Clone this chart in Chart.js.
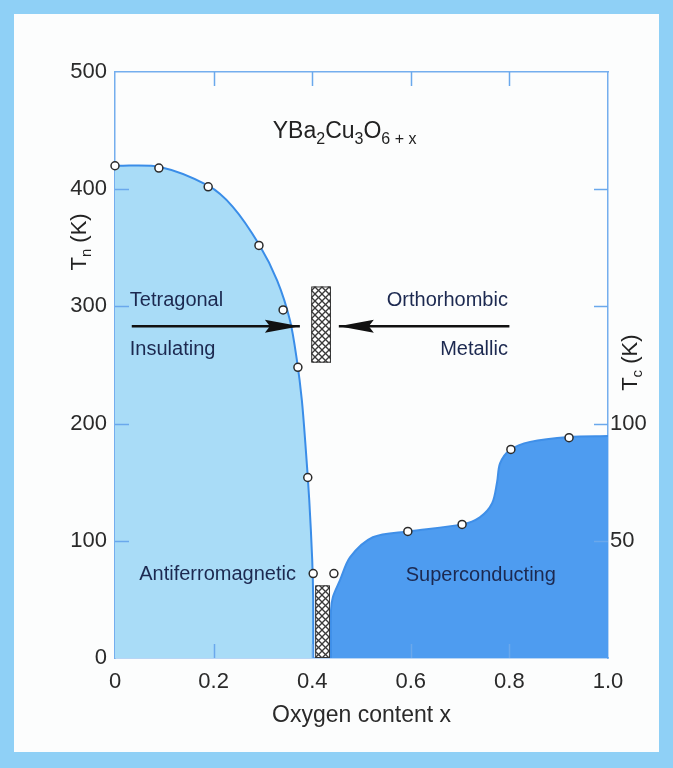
<!DOCTYPE html>
<html>
<head>
<meta charset="utf-8">
<script src="https://cdn.jsdelivr.net/npm/chart.js@4.4.1/dist/chart.umd.min.js"></script>
<style>
  html, body { margin: 0; padding: 0; background: #8fd0f6; }
  #panel { position: absolute; left: 14px; top: 14px; width: 645px; height: 738px; background: #fcfdfd; }
  #wrap { position: absolute; left: 0; top: 0; width: 673px; height: 768px; }
</style>
</head>
<body>
<div id="panel"></div>
<div id="wrap"><canvas id="chart"></canvas></div>
<script>
// x = oxygen content, Tn on the left axis (K), Tc on the right axis (K)
const afBoundaryX = [0, 0.091, 0.189, 0.239, 0.292, 0.329, 0.355, 0.369, 0.379, 0.387, 0.394, 0.400, 0.402, 0.402];
const afBoundaryTn = [420, 419, 403, 385, 353, 322, 288, 254, 220, 178, 135, 84, 50, 0];

const neelX = [0, 0.089, 0.189, 0.292, 0.341, 0.371, 0.391, 0.402];
const neelTn = [420, 418, 402, 352, 297, 248, 154, 72];

const scBoundaryX = [0.438, 0.438, 0.442, 0.456, 0.477, 0.523, 0.594, 0.704, 0.740, 0.765, 0.775, 0.781, 0.801, 0.842, 0.921, 1.0];
const scBoundaryTc = [0, 20, 26, 33, 43, 51.5, 54, 57, 60, 66, 75, 83, 88.7, 92.2, 94.3, 94.7];

const tcX = [0.444, 0.594, 0.704, 0.803, 0.921];
const tcK = [36, 54, 57, 89, 94];

// hatched two-phase regions: [x from, x to, Tn from, Tn to]
const hatchBoxes = [
  [0.398, 0.438, 252, 317],
  [0.406, 0.436, 0, 62]
];

// arrows: [x tail, x tip, Tn]
const arrows = [
  [0.034, 0.375, 283],
  [0.800, 0.454, 283]
];

const xTicks = [0, 0.2, 0.4, 0.6, 0.8, 1.0];
const tnTicks = [0, 100, 200, 300, 400, 500];
const tcTicks = [50, 100];

const FONT = '"Liberation Sans", Arial, Helvetica, sans-serif';
const TEXT = '#1c2950';

const zip = (xs, ys) => xs.map((v, i) => ({ x: v, y: ys[i] }));

// crosshatch pattern for the mixed regions
function makeHatch() {
  const c = document.createElement('canvas');
  c.width = 7; c.height = 7;
  const g = c.getContext('2d');
  g.fillStyle = '#ffffff';
  g.fillRect(0, 0, 7, 7);
  g.strokeStyle = '#3a3a3a';
  g.lineWidth = 1.3;
  for (const k of [-7, 0, 7]) {
    g.beginPath(); g.moveTo(k, 0); g.lineTo(k + 7, 7); g.stroke();
    g.beginPath(); g.moveTo(k, 7); g.lineTo(k + 7, 0); g.stroke();
  }
  return c;
}

function drawSubText(ctx, parts, x, y, big, small, drop) {
  let cx = x;
  parts.forEach(([t, sub]) => {
    ctx.font = (sub ? small : big) + 'px ' + FONT;
    ctx.fillText(t, cx, sub ? y + drop : y);
    cx += ctx.measureText(t).width;
  });
  return cx - x;
}

function subWidth(ctx, parts, big, small) {
  let w = 0;
  parts.forEach(([t, sub]) => {
    ctx.font = (sub ? small : big) + 'px ' + FONT;
    w += ctx.measureText(t).width;
  });
  return w;
}

const extras = {
  id: 'extras',
  afterDatasetsDraw(chart) {
    const { ctx, chartArea: a, scales } = chart;
    const sx = scales.x, sy = scales.y;
    ctx.save();

    // hatched boxes
    const pat = ctx.createPattern(makeHatch(), 'repeat');
    hatchBoxes.forEach(([x0, x1, t0, t1]) => {
      const l = sx.getPixelForValue(x0), r = sx.getPixelForValue(x1);
      const top = sy.getPixelForValue(t1), bot = sy.getPixelForValue(t0);
      ctx.fillStyle = pat;
      ctx.fillRect(l, top, r - l, bot - top);
      ctx.strokeStyle = '#333';
      ctx.lineWidth = 1;
      ctx.strokeRect(l + 0.5, top + 0.5, r - l - 1, bot - top - 1);
    });

    // arrowheads on arrow datasets
    chart.data.datasets.forEach((ds, i) => {
      if (!ds.arrow) return;
      const pts = chart.getDatasetMeta(i).data;
      const p = pts[pts.length - 1], q = pts[pts.length - 2];
      const ang = Math.atan2(p.y - q.y, p.x - q.x);
      ctx.save();
      ctx.translate(p.x, p.y);
      ctx.rotate(ang);
      ctx.fillStyle = '#111';
      ctx.beginPath();
      ctx.moveTo(0, 0);
      ctx.lineTo(-35, -6.5);
      ctx.lineTo(-30, 0);
      ctx.lineTo(-35, 6.5);
      ctx.closePath();
      ctx.fill();
      ctx.restore();
    });

    // region labels
    ctx.fillStyle = TEXT;
    ctx.textBaseline = 'middle';
    ctx.font = '20px ' + FONT;
    const put = (txt, xv, tv, align) => {
      ctx.textAlign = align;
      ctx.fillText(txt, sx.getPixelForValue(xv), sy.getPixelForValue(tv));
    };
    put('Tetragonal', 0.03, 305, 'left');
    put('Insulating', 0.03, 263, 'left');
    put('Orthorhombic', 0.797, 305, 'right');
    put('Metallic', 0.797, 263, 'right');
    put('Antiferromagnetic', 0.208, 71, 'center');
    put('Superconducting', 0.742, 70, 'center');

    // compound formula
    ctx.fillStyle = '#222';
    ctx.textAlign = 'left';
    ctx.textBaseline = 'alphabetic';
    drawSubText(ctx, [['YBa', 0], ['2', 1], ['Cu', 0], ['3', 1], ['O', 0], ['6 + x', 1]],
      sx.getPixelForValue(0.32), sy.getPixelForValue(444), 23, 16, 6);

    // axis titles with subscripts, rotated
    const axisTitle = (parts, cx, cy) => {
      ctx.save();
      ctx.translate(cx, cy);
      ctx.rotate(-Math.PI / 2);
      const w = subWidth(ctx, parts, 22, 15);
      ctx.textBaseline = 'middle';
      drawSubText(ctx, parts, -w / 2, 0, 22, 15, 7);
      ctx.restore();
    };
    axisTitle([['T', 0], ['n', 1], [' (K)', 0]], a.left - 35, sy.getPixelForValue(355));
    axisTitle([['T', 0], ['c', 1], [' (K)', 0]], a.right + 23, sy.getPixelForValue(252));

    // inward tick marks on all four sides
    ctx.strokeStyle = '#6aa8ec';
    ctx.lineWidth = 1.5;
    const len = 14;
    xTicks.slice(1, -1).forEach(v => {
      const px = Math.round(sx.getPixelForValue(v)) + 0.5;
      ctx.beginPath(); ctx.moveTo(px, a.top); ctx.lineTo(px, a.top + len); ctx.stroke();
      ctx.beginPath(); ctx.moveTo(px, a.bottom); ctx.lineTo(px, a.bottom - len); ctx.stroke();
    });
    tnTicks.slice(1, -1).forEach(v => {
      const py = Math.round(sy.getPixelForValue(v)) + 0.5;
      ctx.beginPath(); ctx.moveTo(a.left, py); ctx.lineTo(a.left + len, py); ctx.stroke();
      ctx.beginPath(); ctx.moveTo(a.right, py); ctx.lineTo(a.right - len, py); ctx.stroke();
    });
    ctx.restore();
  }
};

const pointStyle = {
  showLine: false,
  pointRadius: 4,
  pointBackgroundColor: '#ffffff',
  pointBorderColor: '#2b2b2b',
  pointBorderWidth: 1.5,
  clip: false,
  order: 1
};

const arrowSets = arrows.map(([x0, x1, t]) => ({
  data: [{ x: x0, y: t }, { x: x1, y: t }],
  yAxisID: 'y',
  borderColor: '#111',
  borderWidth: 2.5,
  pointRadius: 0,
  fill: false,
  arrow: true,
  order: 2
}));

const axisBorder = { display: true, color: '#74aeee', width: 1.5 };

new Chart(document.getElementById('chart'), {
  type: 'line',
  data: {
    datasets: [
      {
        data: zip(afBoundaryX, afBoundaryTn),
        yAxisID: 'y',
        borderColor: '#3a8de8',
        borderWidth: 2,
        backgroundColor: '#a9dcf7',
        fill: 'origin',
        tension: 0.3,
        pointRadius: 0,
        order: 3
      },
      {
        data: zip(scBoundaryX, scBoundaryTc),
        yAxisID: 'y2',
        borderColor: '#3f8fe8',
        borderWidth: 2,
        backgroundColor: '#4e9cf0',
        fill: 'origin',
        tension: 0.3,
        pointRadius: 0,
        order: 3
      },
      { data: zip(neelX, neelTn), yAxisID: 'y', ...pointStyle },
      { data: zip(tcX, tcK), yAxisID: 'y2', ...pointStyle },
      ...arrowSets
    ]
  },
  options: {
    responsive: true,
    maintainAspectRatio: false,
    animation: false,
    events: [],
    layout: { padding: { top: 72, left: 0, right: 0, bottom: 39 } },
    plugins: {
      legend: { display: false },
      tooltip: { enabled: false }
    },
    scales: {
      x: {
        type: 'linear',
        position: 'bottom',
        min: 0,
        max: 1,
        z: 1,
        afterFit: s => { s.height = 71; },
        afterBuildTicks: s => { s.ticks = xTicks.map(v => ({ value: v })); },
        grid: { display: false, drawTicks: false },
        border: axisBorder,
        ticks: {
          padding: 11,
          color: '#2a2a2a',
          font: { family: FONT, size: 22 },
          callback: v => (v === 0 ? '0' : v.toFixed(1))
        },
        title: {
          display: true,
          text: 'Oxygen content x',
          color: '#2a2a2a',
          padding: 0,
          font: { family: FONT, size: 23 }
        }
      },
      xTop: {
        type: 'linear',
        position: 'top',
        min: 0,
        max: 1,
        z: 1,
        afterFit: s => { s.height = 0; },
        grid: { display: false, drawTicks: false },
        border: axisBorder,
        ticks: { display: false }
      },
      y: {
        type: 'linear',
        position: 'left',
        min: 0,
        max: 500,
        z: 1,
        afterFit: s => { s.width = 115; },
        afterBuildTicks: s => { s.ticks = tnTicks.map(v => ({ value: v })); },
        grid: { display: false, drawTicks: false },
        border: axisBorder,
        ticks: {
          padding: 8,
          color: '#2a2a2a',
          font: { family: FONT, size: 22 }
        }
      },
      y2: {
        type: 'linear',
        position: 'right',
        min: 0,
        max: 250,
        z: 1,
        afterFit: s => { s.width = 65; },
        afterBuildTicks: s => { s.ticks = tcTicks.map(v => ({ value: v })); },
        grid: { display: false, drawTicks: false },
        border: axisBorder,
        ticks: {
          padding: 2,
          color: '#2a2a2a',
          font: { family: FONT, size: 22 }
        }
      }
    }
  },
  plugins: [extras]
});
</script>
</body>
</html>
